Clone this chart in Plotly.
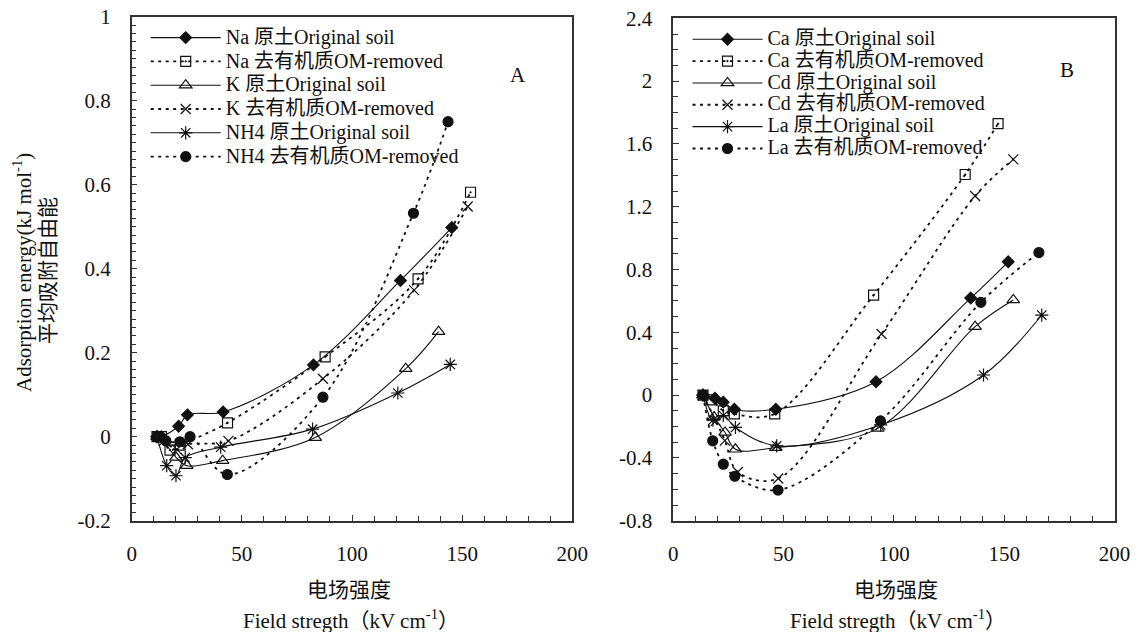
import plotly.graph_objects as go

W, H = 1141, 632
OFF = 8  # page body margin offset in the browser

# ---------------- Panel A data ----------------
na_orig_x = [11.5, 13.5, 21.3, 25.3, 41.5, 82.5, 122.0, 145.3]
na_orig_y = [0.0, 0.0, 0.025, 0.052, 0.059, 0.171, 0.372, 0.498]
na_om_x = [11.5, 13.5, 17.4, 22.0, 43.5, 87.8, 130.0, 153.8]
na_om_y = [0.0, 0.0, -0.032, -0.020, 0.033, 0.190, 0.376, 0.582]
k_orig_x = [11.5, 13.5, 20.1, 25.0, 41.3, 83.3, 124.4, 139.3]
k_orig_y = [0.0, -0.005, -0.049, -0.069, -0.057, -0.002, 0.162, 0.250]
k_om_x = [11.5, 14.5, 20.5, 25.5, 43.9, 86.8, 128.2, 152.5]
k_om_y = [0.0, -0.010, -0.030, -0.018, -0.010, 0.138, 0.349, 0.548]
nh4_orig_x = [11.5, 15.9, 20.1, 24.3, 40.4, 82.1, 120.8, 144.6]
nh4_orig_y = [0.0, -0.069, -0.093, -0.050, -0.025, 0.018, 0.104, 0.172]
nh4_om_x = [11.5, 15.5, 21.9, 26.5, 43.4, 86.8, 127.9, 143.6]
nh4_om_y = [0.0, -0.010, -0.012, 0.0, -0.090, 0.094, 0.532, 0.750]

# ---------------- Panel B data ----------------
ca_orig_x = [13.5, 18.9, 22.7, 27.7, 46.5, 91.9, 134.8, 151.8]
ca_orig_y = [0.0, -0.020, -0.045, -0.090, -0.090, 0.085, 0.618, 0.849]
ca_om_x = [13.5, 17.5, 22.7, 27.7, 46.0, 90.8, 132.3, 147.2]
ca_om_y = [0.0, -0.030, -0.100, -0.120, -0.120, 0.637, 1.405, 1.729]
cd_orig_x = [13.5, 18.5, 23.5, 28.2, 46.5, 92.7, 136.8, 154.1]
cd_orig_y = [0.0, -0.140, -0.238, -0.345, -0.334, -0.212, 0.436, 0.606]
cd_om_x = [13.5, 19.3, 23.4, 29.3, 47.6, 94.4, 136.8, 154.1]
cd_om_y = [0.0, -0.164, -0.290, -0.490, -0.531, 0.389, 1.268, 1.501]
la_orig_x = [13.5, 18.0, 22.7, 28.2, 46.9, 94.0, 140.6, 167.0]
la_orig_y = [0.0, -0.160, -0.130, -0.206, -0.323, -0.190, 0.128, 0.510]
la_om_x = [13.5, 17.9, 22.7, 27.9, 47.5, 93.9, 139.4, 165.7]
la_om_y = [0.0, -0.291, -0.440, -0.517, -0.605, -0.164, 0.591, 0.908]

# ---------------- labels / ticks ----------------
names_a = ["Na 原土Original soil", "Na 去有机质OM-removed",
           "K 原土Original soil", "K 去有机质OM-removed",
           "NH4 原土Original soil", "NH4 去有机质OM-removed"]
names_b = ["Ca 原土Original soil", "Ca 去有机质OM-removed",
           "Cd 原土Original soil", "Cd 去有机质OM-removed",
           "La 原土Original soil", "La 去有机质OM-removed"]
x_tickvals = [0, 50, 100, 150, 200]
x_ticktext = ["0", "50", "100", "150", "200"]
ya_tickvals = [-0.2, 0, 0.2, 0.4, 0.6, 0.8, 1.0]
ya_ticktext = ["-0.2", "0", "0.2", "0.4", "0.6", "0.8", "1"]
yb_tickvals = [-0.8, -0.4, 0, 0.4, 0.8, 1.2, 1.6, 2.0, 2.4]
yb_ticktext = ["-0.8", "-0.4", "0", "0.4", "0.8", "1.2", "1.6", "2", "2.4"]
ytitle_en = "Adsorption energy(kJ mol<sup>-1</sup>)"
ytitle_cn = "平均吸附自由能"
xtitle_cn = "电场强度"
xtitle_en = "Field stregth（kV cm<sup>-1</sup>）"

FONT = "Liberation Serif, Noto Sans CJK SC"
BLACK = "#111111"
AXC = "#333333"
SOLID = dict(color=BLACK, width=1.1, shape="spline", smoothing=1.0)
DOT = dict(color=BLACK, width=1.8, dash="3px,4.5px", shape="spline", smoothing=1.0)

symbols = ["diamond", "square-open-dot", "triangle-up-open", "x-thin-open", "asterisk-open", "circle"]
sizes = [9, 10, 11, 10, 11, 10]


def px_x(p):
    return (p - OFF) / W


def px_y(p):
    return 1 - (p - OFF) / H


fig = go.Figure()

series_a = [(na_orig_x, na_orig_y), (na_om_x, na_om_y), (k_orig_x, k_orig_y),
            (k_om_x, k_om_y), (nh4_orig_x, nh4_orig_y), (nh4_om_x, nh4_om_y)]
series_b = [(ca_orig_x, ca_orig_y), (ca_om_x, ca_om_y), (cd_orig_x, cd_orig_y),
            (cd_om_x, cd_om_y), (la_orig_x, la_orig_y), (la_om_x, la_om_y)]


def add_series(series, names, xa, ya, legend, fs):
    for i, ((xs, ys), nm) in enumerate(zip(series, names)):
        fig.add_trace(go.Scatter(
            x=xs, y=ys, mode="lines+markers",
            name='<span style="font-size:%dpx">%s</span>' % (fs, nm),
            line=SOLID if i % 2 == 0 else DOT,
            marker=dict(symbol=symbols[i], size=sizes[i], color=BLACK,
                        line=dict(color=BLACK, width=1.2)),
            xaxis=xa, yaxis=ya, legend=legend,
        ))


add_series(series_a, names_a, "x", "y", "legend", 20)
add_series(series_b, names_b, "x2", "y2", "legend2", 20)

axis_common = dict(showgrid=False, zeroline=False, showline=True, linecolor=AXC,
                   linewidth=1.5, mirror=True, ticks="inside", ticklen=6, tickwidth=1.2,
                   tickcolor=AXC, automargin=False, ticklabeloverflow="allow",
                   tickfont=dict(family=FONT, size=21, color=BLACK))

dom_ax = [px_x(131.7), px_x(572.3)]
dom_bx = [px_x(673.2), px_x(1114.6)]
dom_ay = [px_y(520.7), px_y(16.7)]
dom_by = [px_y(520.7), px_y(18.3)]

fig.update_layout(
    width=W, height=H, margin=dict(l=0, r=0, t=0, b=0, autoexpand=False),
    paper_bgcolor="white", plot_bgcolor="white",
    font=dict(family=FONT, color=BLACK),
    xaxis=dict(domain=dom_ax, range=[0, 200], anchor="y", tickvals=x_tickvals, ticktext=x_ticktext,
               minor=dict(dtick=10, tick0=0, ticks="inside", ticklen=5, tickcolor=AXC),
               ticklabelstandoff=13, **axis_common),
    yaxis=dict(domain=dom_ay, range=[-0.2, 1.0], anchor="x", tickvals=ya_tickvals, ticktext=ya_ticktext,
               minor=dict(dtick=0.02, tick0=0, ticks="inside", ticklen=5, tickcolor=AXC),
               ticklabelstandoff=15, **axis_common),
    xaxis2=dict(domain=dom_bx, range=[0, 200], anchor="y2", tickvals=x_tickvals, ticktext=x_ticktext,
                minor=dict(dtick=10, tick0=0, ticks="inside", ticklen=5, tickcolor=AXC),
                ticklabelstandoff=13, **axis_common),
    yaxis2=dict(domain=dom_by, range=[-0.8, 2.4], anchor="x2", tickvals=yb_tickvals, ticktext=yb_ticktext,
                minor=dict(dtick=0.1, tick0=0, ticks="inside", ticklen=5, tickcolor=AXC),
                ticklabelstandoff=15, **axis_common),
    legend=dict(x=px_x(145.7), y=px_y(20.7), xanchor="left", yanchor="top",
                bgcolor="rgba(0,0,0,0)", font=dict(family=FONT, size=16, color=BLACK),
                itemwidth=70, tracegroupgap=0),
    legend2=dict(x=px_x(687.5), y=px_y(23.3), xanchor="left", yanchor="top",
                 bgcolor="rgba(0,0,0,0)", font=dict(family=FONT, size=14.5, color=BLACK),
                 itemwidth=70, tracegroupgap=0),
    showlegend=True,
)

anns = [
    (22, 273, ytitle_en, -90),
    (48, 271, ytitle_cn, -90),
    (349, 590, xtitle_cn, 0),
    (351, 619, xtitle_en, 0),
    (896, 590, xtitle_cn, 0),
    (898, 619, xtitle_en, 0),
    (517.6, 75, "A", 0),
    (1067, 70, "B", 0),
]
for ax_, ay_, txt, ang in anns:
    fig.add_annotation(x=px_x(ax_), y=px_y(ay_), xref="paper", yref="paper", text=txt,
                       showarrow=False, textangle=ang, xanchor="center", yanchor="middle",
                       font=dict(family=FONT, size=21, color=BLACK))

fig.write_html("out.html")
